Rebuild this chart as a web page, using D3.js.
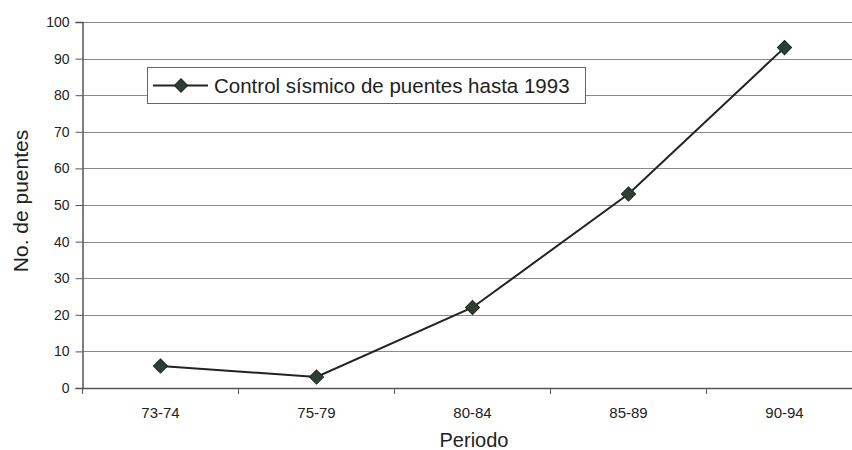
<!DOCTYPE html>
<html><head><meta charset="utf-8">
<script src="https://cdn.jsdelivr.net/npm/d3@7"></script>
<style>body{margin:0;background:#fff}svg{display:block}</style>
</head><body>
<script>
const categories = ["73-74","75-79","80-84","85-89","90-94"];
const values = [6, 3, 22, 53, 93];
const yTicks = [0,10,20,30,40,50,60,70,80,90,100];
const seriesName = "Control sísmico de puentes hasta 1993";

(function(){
const W = 852, H = 450;
const svg = d3.select("body").append("svg").attr("width", W).attr("height", H);
const mLeft = 82.5, mRight = 862.5, mTop = 22, mBottom = 388;
const x = d3.scaleBand().domain(categories).range([mLeft, mRight]).padding(0);
const y = d3.scaleLinear().domain([0,100]).range([mBottom, mTop]);
const font = "Liberation Sans, Arial, sans-serif";

// gridlines
svg.append("g").selectAll("line").data(yTicks.filter(d=>d>0)).join("line")
  .attr("x1", mLeft).attr("x2", mRight)
  .attr("y1", d=>Math.round(y(d))+0.5).attr("y2", d=>Math.round(y(d))+0.5)
  .attr("stroke", "#8a8a8a").attr("stroke-width", 1);

// y axis
const ya = svg.append("g").attr("transform", `translate(${mLeft},0)`)
  .call(d3.axisLeft(y).tickValues(yTicks).tickSize(7).tickPadding(6));
ya.select(".domain").attr("stroke", "#555").attr("stroke-width", 1.5);
ya.selectAll(".tick line").attr("stroke", "#555");
ya.selectAll("text").attr("font-family", font).attr("font-size", 14).attr("fill", "#222");

// x axis
const xa = svg.append("g").attr("transform", `translate(0,${mBottom})`)
  .call(d3.axisBottom(x).tickSize(0).tickPadding(19));
xa.select(".domain").attr("stroke", "#555").attr("stroke-width", 1.5);
xa.selectAll("text").attr("font-family", font).attr("font-size", 15).attr("fill", "#222");
// boundary tick marks
const bounds = categories.map(c => x(c));
svg.append("g").selectAll("line").data(bounds).join("line")
  .attr("x1", d=>d).attr("x2", d=>d).attr("y1", mBottom).attr("y2", mBottom+6)
  .attr("stroke", "#555");

// line
const cx = d => x(d) + x.bandwidth()/2;
const line = d3.line().x((d,i)=>cx(categories[i])).y(d=>y(d));
svg.append("path").datum(values).attr("d", line)
  .attr("fill", "none").attr("stroke", "#222").attr("stroke-width", 2);

svg.append("g").selectAll("path").data(values).join("path")
  .attr("d", d3.symbol().type(d3.symbolSquare).size(100))
  .attr("transform", (d,i)=>`translate(${cx(categories[i])},${y(d)}) rotate(45)`)
  .attr("fill", "#2f3d35").attr("stroke", "#1e2822").attr("stroke-width", 1);

// legend
const lg = svg.append("g");
lg.append("rect").attr("x", 147.5).attr("y", 67.5).attr("width", 438).attr("height", 36)
  .attr("fill", "#fff").attr("stroke", "#666").attr("stroke-width", 1);
lg.append("line").attr("x1", 153).attr("x2", 208).attr("y1", 85.5).attr("y2", 85.5)
  .attr("stroke", "#222").attr("stroke-width", 2);
lg.append("path").attr("d", d3.symbol().type(d3.symbolSquare).size(90))
  .attr("transform", "translate(181,85.5) rotate(45)")
  .attr("fill", "#2f3d35").attr("stroke", "#1e2822");
lg.append("text").attr("x", 214).attr("y", 92.5).text(seriesName)
  .attr("font-family", font).attr("font-size", 20.5).attr("fill", "#222");

// axis titles
svg.append("text").attr("transform", "translate(28,201) rotate(-90)")
  .attr("text-anchor", "middle").text("No. de puentes")
  .attr("font-family", font).attr("font-size", 21).attr("fill", "#222");
svg.append("text").attr("x", 474).attr("y", 447).attr("text-anchor", "middle").text("Periodo")
  .attr("font-family", font).attr("font-size", 20).attr("fill", "#222");
})();
</script>
</body></html>
